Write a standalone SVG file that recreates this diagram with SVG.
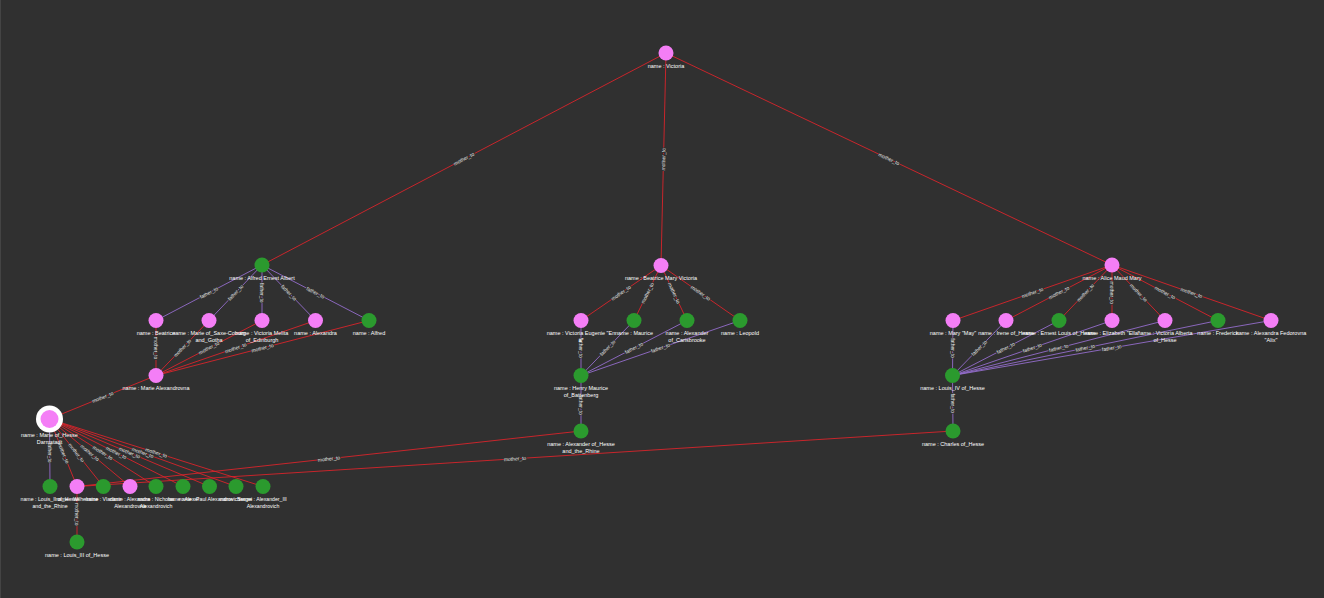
<svg xmlns="http://www.w3.org/2000/svg" width="1324" height="598" viewBox="0 0 1324 598">
<style>
.m{stroke:#e3242b;stroke-width:0.85;fill:none}
.f{stroke:#9a70d4;stroke-width:0.85;fill:none}
.el{font-family:"Liberation Sans",Arial,sans-serif;font-size:5px;fill:#e8e8e8;stroke:#303030;stroke-width:1.6;paint-order:stroke;text-anchor:middle}
.nl{font-family:"Liberation Sans",Arial,sans-serif;font-size:5.5px;fill:#ffffff;text-anchor:middle}
.nls{font-family:"Liberation Sans",Arial,sans-serif;font-size:5.2px;fill:#ffffff;text-anchor:middle}
.p{fill:#f47ef6}
.g{fill:#2b9a2e}
</style>
<rect x="0" y="0" width="1324" height="598" fill="#303030"/>
<line x1="0.5" y1="0" x2="0.5" y2="598" stroke="#444" stroke-width="1"/>
<g id="connectors">
<line class="m" x1="666" y1="53" x2="262" y2="265"/>
<line class="m" x1="666" y1="53" x2="661" y2="265.5"/>
<line class="m" x1="666" y1="53" x2="1112" y2="265"/>
<line class="f" x1="262" y1="265" x2="156" y2="320.5"/>
<line class="f" x1="262" y1="265" x2="209" y2="320.5"/>
<line class="f" x1="262" y1="265" x2="262" y2="320.5"/>
<line class="f" x1="262" y1="265" x2="315.5" y2="320.5"/>
<line class="f" x1="262" y1="265" x2="369" y2="320.5"/>
<line class="m" x1="156" y1="375.5" x2="156" y2="320.5"/>
<line class="m" x1="156" y1="375.5" x2="209" y2="320.5"/>
<line class="m" x1="156" y1="375.5" x2="262" y2="320.5"/>
<line class="m" x1="156" y1="375.5" x2="315.5" y2="320.5"/>
<line class="m" x1="156" y1="375.5" x2="369" y2="320.5"/>
<line class="m" x1="49.5" y1="419" x2="156" y2="375.5"/>
<line class="f" x1="50" y1="486.5" x2="49.5" y2="419"/>
<line class="m" x1="77" y1="486.5" x2="49.5" y2="419"/>
<line class="m" x1="49.5" y1="419" x2="103.3" y2="486.5"/>
<line class="m" x1="49.5" y1="419" x2="130" y2="486.5"/>
<line class="m" x1="49.5" y1="419" x2="156" y2="486.5"/>
<line class="m" x1="49.5" y1="419" x2="183" y2="486.5"/>
<line class="m" x1="49.5" y1="419" x2="209.5" y2="486.5"/>
<line class="m" x1="49.5" y1="419" x2="236" y2="486.5"/>
<line class="m" x1="49.5" y1="419" x2="263" y2="486.5"/>
<line class="m" x1="77" y1="486.5" x2="581" y2="431"/>
<line class="m" x1="77" y1="486.5" x2="953" y2="431"/>
<line class="m" x1="77" y1="486.5" x2="77" y2="542"/>
<line class="m" x1="661" y1="265.5" x2="581" y2="320.5"/>
<line class="m" x1="661" y1="265.5" x2="634" y2="320.5"/>
<line class="m" x1="661" y1="265.5" x2="687" y2="320.5"/>
<line class="m" x1="661" y1="265.5" x2="740" y2="320.5"/>
<line class="f" x1="581" y1="375.5" x2="581" y2="320.5"/>
<line class="f" x1="581" y1="375.5" x2="634" y2="320.5"/>
<line class="f" x1="581" y1="375.5" x2="687" y2="320.5"/>
<line class="f" x1="581" y1="375.5" x2="740" y2="320.5"/>
<line class="f" x1="581" y1="431" x2="581" y2="375.5"/>
<line class="m" x1="1112" y1="265" x2="953" y2="320.5"/>
<line class="m" x1="1112" y1="265" x2="1006" y2="320.5"/>
<line class="m" x1="1112" y1="265" x2="1059" y2="320.5"/>
<line class="m" x1="1112" y1="265" x2="1112" y2="320.5"/>
<line class="m" x1="1112" y1="265" x2="1165" y2="320.5"/>
<line class="m" x1="1112" y1="265" x2="1218" y2="320.5"/>
<line class="m" x1="1112" y1="265" x2="1271" y2="320.5"/>
<line class="f" x1="952.5" y1="375.5" x2="953" y2="320.5"/>
<line class="f" x1="952.5" y1="375.5" x2="1006" y2="320.5"/>
<line class="f" x1="952.5" y1="375.5" x2="1059" y2="320.5"/>
<line class="f" x1="952.5" y1="375.5" x2="1112" y2="320.5"/>
<line class="f" x1="952.5" y1="375.5" x2="1165" y2="320.5"/>
<line class="f" x1="952.5" y1="375.5" x2="1218" y2="320.5"/>
<line class="f" x1="952.5" y1="375.5" x2="1271" y2="320.5"/>
<line class="f" x1="953" y1="431" x2="952.5" y2="375.5"/>
<g id="edge-labels">
<text class="el" dy="1.7" transform="translate(464,159) rotate(-27.7)">mother_to</text>
<text class="el" dy="1.7" transform="translate(663.5,159.3) rotate(-88.65)">mother_to</text>
<text class="el" dy="1.7" transform="translate(889,159) rotate(25.4)">mother_to</text>
<text class="el" dy="1.7" transform="translate(209,292.75) rotate(-27.4)">father_to</text>
<text class="el" dy="1.7" transform="translate(235.5,292.75) rotate(-46.1)">father_to</text>
<text class="el" dy="1.7" transform="translate(262,292.75) rotate(90)">father_to</text>
<text class="el" dy="1.7" transform="translate(288.75,292.75) rotate(45.8)">father_to</text>
<text class="el" dy="1.7" transform="translate(315.5,292.75) rotate(27.2)">father_to</text>
<text class="el" dy="1.7" transform="translate(156,348) rotate(90)">mother_to</text>
<text class="el" dy="1.7" transform="translate(182.5,348) rotate(-46.3)">mother_to</text>
<text class="el" dy="1.7" transform="translate(209,348) rotate(-27.6)">mother_to</text>
<text class="el" dy="1.7" transform="translate(235.75,348) rotate(-19.2)">mother_to</text>
<text class="el" dy="1.7" transform="translate(262.5,348) rotate(-14.6)">mother_to</text>
<text class="el" dy="1.7" transform="translate(102.75,397.25) rotate(-22.2)">mother_to</text>
<text class="el" dy="1.7" transform="translate(49.75,452.75) rotate(90)">father_to</text>
<text class="el" dy="1.7" transform="translate(63.25,452.75) rotate(67.8)">mother_to</text>
<text class="el" dy="1.7" transform="translate(76.4,452.75) rotate(51.4)">mother_to</text>
<text class="el" dy="1.7" transform="translate(89.75,452.75) rotate(40)">mother_to</text>
<text class="el" dy="1.7" transform="translate(102.75,452.75) rotate(32.4)">mother_to</text>
<text class="el" dy="1.7" transform="translate(116.25,452.75) rotate(26.8)">mother_to</text>
<text class="el" dy="1.7" transform="translate(129.5,452.75) rotate(22.9)">mother_to</text>
<text class="el" dy="1.7" transform="translate(142.75,452.75) rotate(19.9)">mother_to</text>
<text class="el" dy="1.7" transform="translate(156.25,452.75) rotate(17.5)">mother_to</text>
<text class="el" dy="1.7" transform="translate(329,458.75) rotate(-6.3)">mother_to</text>
<text class="el" dy="1.7" transform="translate(515,458.75) rotate(-3.6)">mother_to</text>
<text class="el" dy="1.7" transform="translate(77,514.25) rotate(90)">mother_to</text>
<text class="el" dy="1.7" transform="translate(621,293) rotate(-34.5)">mother_to</text>
<text class="el" dy="1.7" transform="translate(647.5,293) rotate(-63.9)">mother_to</text>
<text class="el" dy="1.7" transform="translate(674,293) rotate(64.7)">mother_to</text>
<text class="el" dy="1.7" transform="translate(700.5,293) rotate(34.8)">mother_to</text>
<text class="el" dy="1.7" transform="translate(581,348) rotate(90)">father_to</text>
<text class="el" dy="1.7" transform="translate(607.5,348) rotate(-46.1)">father_to</text>
<text class="el" dy="1.7" transform="translate(634,348) rotate(-27.4)">father_to</text>
<text class="el" dy="1.7" transform="translate(660.5,348) rotate(-19.1)">father_to</text>
<text class="el" dy="1.7" transform="translate(581,405) rotate(90)">father_to</text>
<text class="el" dy="1.7" transform="translate(1032.5,292.75) rotate(-19.2)">mother_to</text>
<text class="el" dy="1.7" transform="translate(1059,292.75) rotate(-27.6)">mother_to</text>
<text class="el" dy="1.7" transform="translate(1085.5,292.75) rotate(-46.3)">mother_to</text>
<text class="el" dy="1.7" transform="translate(1112,292.75) rotate(90)">mother_to</text>
<text class="el" dy="1.7" transform="translate(1138.5,292.75) rotate(46.3)">mother_to</text>
<text class="el" dy="1.7" transform="translate(1165,292.75) rotate(27.6)">mother_to</text>
<text class="el" dy="1.7" transform="translate(1191.5,292.75) rotate(19.2)">mother_to</text>
<text class="el" dy="1.7" transform="translate(952.75,348) rotate(90)">father_to</text>
<text class="el" dy="1.7" transform="translate(979.25,348) rotate(-45.5)">father_to</text>
<text class="el" dy="1.7" transform="translate(1005.75,348) rotate(-27.2)">father_to</text>
<text class="el" dy="1.7" transform="translate(1032.25,348) rotate(-19)">father_to</text>
<text class="el" dy="1.7" transform="translate(1058.75,348) rotate(-14.5)">father_to</text>
<text class="el" dy="1.7" transform="translate(1085.25,348) rotate(-11.7)">father_to</text>
<text class="el" dy="1.7" transform="translate(1111.75,348) rotate(-9.8)">father_to</text>
<text class="el" dy="1.7" transform="translate(952.75,403.25) rotate(90)">father_to</text>
</g>
</g>
<g id="n-victoria"><circle class="p" cx="666" cy="53" r="7.5"/><text class="nl" x="666" y="67.5">name : Victoria</text></g>
<g id="n-alfred-ernest"><circle class="g" cx="262" cy="265" r="7.5"/><text class="nl" x="262" y="279.5">name : Alfred Ernest Albert</text></g>
<g id="n-beatrice-a"><circle class="p" cx="156" cy="320.5" r="7.5"/><text class="nl" x="156" y="335">name : Beatrice</text></g>
<g id="n-marie-saxe"><circle class="p" cx="209" cy="320.5" r="7.5"/><text class="nl" x="209" y="335">name : Marie of_Saxe-Coburg</text><text class="nl" x="209" y="342">and_Gotha</text></g>
<g id="n-victoria-melita"><circle class="p" cx="262" cy="320.5" r="7.5"/><text class="nl" x="262" y="335">name : Victoria Melita</text><text class="nl" x="262" y="342">of_Edinburgh</text></g>
<g id="n-alexandra-a"><circle class="p" cx="315.5" cy="320.5" r="7.5"/><text class="nl" x="315.5" y="335">name : Alexandra</text></g>
<g id="n-alfred"><circle class="g" cx="369" cy="320.5" r="7.5"/><text class="nl" x="369" y="335">name : Alfred</text></g>
<g id="n-marie-alexandrovna"><circle class="p" cx="156" cy="375.5" r="7.5"/><text class="nl" x="156" y="390">name : Marie Alexandrovna</text></g>
<g id="n-marie-hesse"><circle cx="49.5" cy="419" r="13.5" fill="#ffffff"/><circle class="p" cx="49.5" cy="419" r="9"/><text class="nl" x="49.5" y="436.5">name : Marie of_Hesse</text><text class="nl" x="49.5" y="444">Darmstadt</text></g>
<g id="n-louis-ii"><circle class="g" cx="50" cy="486.5" r="7.5"/><text class="nls" x="50" y="501">name : Louis_II of_Hesse</text><text class="nls" x="50" y="508">and_the_Rhine</text></g>
<g id="n-wilhelmine"><circle class="p" cx="77" cy="486.5" r="7.5"/><text class="nls" x="77" y="501">name : Wilhelmine</text></g>
<g id="n-vladimir"><circle class="g" cx="103.3" cy="486.5" r="7.5"/><text class="nls" x="103.3" y="501">name : Vladimir</text></g>
<g id="n-alexandra-r"><circle class="p" cx="130" cy="486.5" r="7.5"/><text class="nls" x="130" y="501">name : Alexandra</text><text class="nls" x="130" y="508">Alexandrovna</text></g>
<g id="n-nicholas"><circle class="g" cx="156" cy="486.5" r="7.5"/><text class="nls" x="156" y="501">name : Nicholas</text><text class="nls" x="156" y="508">Alexandrovich</text></g>
<g id="n-alexei"><circle class="g" cx="183" cy="486.5" r="7.5"/><text class="nls" x="183" y="501">name : Alexei</text></g>
<g id="n-paul"><circle class="g" cx="209.5" cy="486.5" r="7.5"/><text class="nls" x="209.5" y="501">name : Paul Alexandrovich</text></g>
<g id="n-sergei"><circle class="g" cx="236" cy="486.5" r="7.5"/><text class="nls" x="236" y="501">name : Sergei</text></g>
<g id="n-alexander-iii"><circle class="g" cx="263" cy="486.5" r="7.5"/><text class="nls" x="263" y="501">name : Alexander_III</text><text class="nls" x="263" y="508">Alexandrovich</text></g>
<g id="n-louis-iii"><circle class="g" cx="77" cy="542" r="7.5"/><text class="nl" x="77" y="556.5">name : Louis_III of_Hesse</text></g>
<g id="n-beatrice"><circle class="p" cx="661" cy="265.5" r="7.5"/><text class="nl" x="661" y="280">name : Beatrice Mary Victoria</text></g>
<g id="n-victoria-eugenie"><circle class="p" cx="581" cy="320.5" r="7.5"/><text class="nl" x="581" y="335">name : Victoria Eugenie "En</text><text class="nl" x="581" y="342">a"</text></g>
<g id="n-maurice"><circle class="g" cx="634" cy="320.5" r="7.5"/><text class="nl" x="634" y="335">name : Maurice</text></g>
<g id="n-alexander-carisbrooke"><circle class="g" cx="687" cy="320.5" r="7.5"/><text class="nl" x="687" y="335">name : Alexander</text><text class="nl" x="687" y="342">of_Carisbrooke</text></g>
<g id="n-leopold"><circle class="g" cx="740" cy="320.5" r="7.5"/><text class="nl" x="740" y="335">name : Leopold</text></g>
<g id="n-henry-maurice"><circle class="g" cx="581" cy="375.5" r="7.5"/><text class="nl" x="581" y="390">name : Henry Maurice</text><text class="nl" x="581" y="397">of_Battenberg</text></g>
<g id="n-alexander-hesse"><circle class="g" cx="581" cy="431" r="7.5"/><text class="nl" x="581" y="445.5">name : Alexander of_Hesse</text><text class="nl" x="581" y="452.5">and_the_Rhine</text></g>
<g id="n-alice"><circle class="p" cx="1112" cy="265" r="7.5"/><text class="nl" x="1112" y="279.5">name : Alice Maud Mary</text></g>
<g id="n-mary-may"><circle class="p" cx="953" cy="320.5" r="7.5"/><text class="nl" x="953" y="335">name : Mary "May"</text></g>
<g id="n-irene"><circle class="p" cx="1006" cy="320.5" r="7.5"/><text class="nl" x="1006" y="335">name : Irene of_Hesse</text></g>
<g id="n-ernest-louis"><circle class="g" cx="1059" cy="320.5" r="7.5"/><text class="nl" x="1059" y="335">name : Ernest Louis of_Hesse</text></g>
<g id="n-elizabeth"><circle class="p" cx="1112" cy="320.5" r="7.5"/><text class="nl" x="1112" y="335">name : Elizabeth "Ella"</text></g>
<g id="n-victoria-alberta"><circle class="p" cx="1165" cy="320.5" r="7.5"/><text class="nl" x="1165" y="335">name : Victoria Alberta</text><text class="nl" x="1165" y="342">of_Hesse</text></g>
<g id="n-frederick"><circle class="g" cx="1218" cy="320.5" r="7.5"/><text class="nl" x="1218" y="335">name : Frederick</text></g>
<g id="n-alix"><circle class="p" cx="1271" cy="320.5" r="7.5"/><text class="nl" x="1271" y="335">name : Alexandra Fedorovna</text><text class="nl" x="1271" y="342">"Alix"</text></g>
<g id="n-louis-iv"><circle class="g" cx="952.5" cy="375.5" r="7.5"/><text class="nl" x="952.5" y="390">name : Louis_IV of_Hesse</text></g>
<g id="n-charles"><circle class="g" cx="953" cy="431" r="7.5"/><text class="nl" x="953" y="445.5">name : Charles of_Hesse</text></g>
</svg>
